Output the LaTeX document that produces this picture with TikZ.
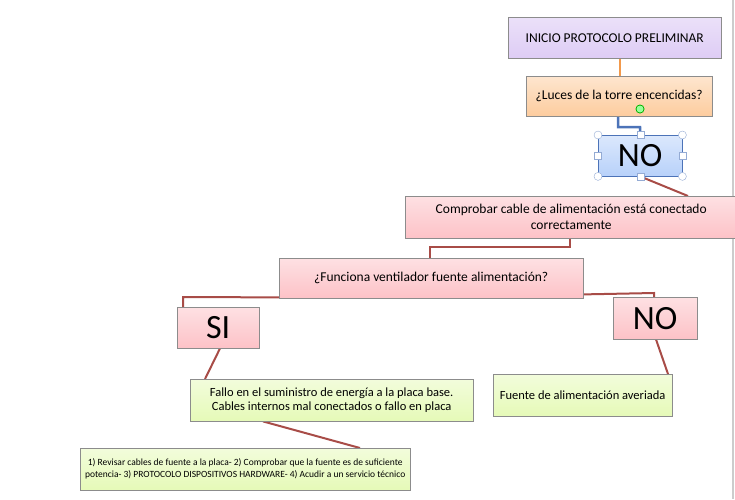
\documentclass[tikz,border=0pt]{standalone}
\usepackage{fontspec}
\setmainfont{Carlito}
\usetikzlibrary{backgrounds}
\definecolor{lila}{rgb}{0.87,0.80,0.96}
\definecolor{naranja}{rgb}{0.99,0.80,0.62}
\definecolor{azul}{rgb}{0.72,0.82,0.98}
\definecolor{rosa}{rgb}{0.99,0.76,0.78}
\definecolor{verde}{rgb}{0.90,0.98,0.72}
\definecolor{borde}{rgb}{0.55,0.55,0.55}
\definecolor{granate}{rgb}{0.66,0.30,0.28}
\definecolor{nar}{rgb}{0.95,0.60,0.30}
\definecolor{azl}{rgb}{0.30,0.45,0.72}
\begin{document}
\begin{tikzpicture}[x=1pt,y=-1pt]
	\tikzstyle{caja}=[draw=borde, anchor=north west, inner sep=2pt, align=center, font=\fontsize{13.5}{16}\selectfont]
	\tikzstyle{link}=[draw=granate, line width=2pt]
	\useasboundingbox (0,0) rectangle (735,499);
	\draw[gray!40, line width=1.5pt] (733,0) -- (733,499);

	% CAJAS
	\node[caja, top color=lila!60, bottom color=lila, minimum width=213pt, minimum height=41pt] (inicio) at (508,17) {INICIO PROTOCOLO PRELIMINAR};
	\node[caja, top color=naranja!50, bottom color=naranja, minimum width=186pt, minimum height=40pt] (luces) at (526,76) {¿Luces de la torre encencidas?};
	\node[caja, draw=azl, top color=azul!50, bottom color=azul, minimum width=84pt, minimum height=41pt, font=\fontsize{34}{36}\selectfont] (no1) at (598,135) {NO};
	\node[caja, top color=rosa!50, bottom color=rosa, minimum width=332pt, minimum height=42pt] (compr) at (405,196) {Comprobar cable de alimentación está conectado\\correctamente};
	\node[caja, top color=rosa!50, bottom color=rosa, minimum width=304pt, minimum height=40pt] (func) at (279,258) {¿Funciona ventilador fuente alimentación?};
	\node[caja, top color=rosa!50, bottom color=rosa, minimum width=82pt, minimum height=41pt, font=\fontsize{34}{36}\selectfont] (si) at (177,307) {SI};
	\node[caja, top color=rosa!50, bottom color=rosa, minimum width=84pt, minimum height=42pt, font=\fontsize{34}{36}\selectfont] (no2) at (613,297) {NO};
	\node[caja, top color=verde!50, bottom color=verde, minimum width=283pt, minimum height=42pt, font=\fontsize{12.5}{14}\selectfont] (fallo) at (190,379) {Fallo en el suministro de energía a la placa base.\\Cables internos mal conectados o fallo en placa};
	\node[caja, top color=verde!50, bottom color=verde, minimum width=179pt, minimum height=42pt, font=\fontsize{12.5}{14}\selectfont] (averia) at (493,374) {Fuente de alimentación averiada};
	\node[caja, top color=verde!50, bottom color=verde, minimum width=330pt, minimum height=42pt, font=\fontsize{9.5}{12}\selectfont] (pasos) at (80,448) {1) Revisar cables de fuente a la placa- 2) Comprobar que la fuente es de suficiente\\potencia- 3) PROTOCOLO DISPOSITIVOS HARDWARE- 4) Acudir a un servicio técnico};

	% CONEXIONES
	\begin{scope}[on background layer]
	\draw[nar, line width=2pt] (inicio.south -| 620,0) -- (luces.north -| 620,0);
	\draw[azl, line width=2.5pt] (luces.south -| 618,0) -- (618,127) -- (640,127) -- (no1.north);
	\draw[link] (no1.south) -- (688,196);
	\draw[link] (compr.south -| 570,0) -- (570,247) -- (430,247) -- (func.north -| 430,0);
	\draw[link] (func.south west) ++(0,-1) -- (183,297) -- (si.north -| 183,0);
	\draw[link] (func.south east) ++(0,-4) -- (654,293) -- (no2.north -| 654,0);
	\draw[link] (no2.south -| 656,0) -- (averia.north -| 668,0);
	\draw[link] (si.south -| 220,0) -- (fallo.north -| 205,0);
	\draw[link] (fallo.south -| 263,0) -- (pasos.north -| 360,0);
	\end{scope}

	% TIRADORES
	\fill[green!70!black] (640,109) circle (4.5pt);
	\fill[green!40] (640,109) circle (3.5pt);
	\foreach \p in {no1.north west, no1.north east, no1.south west, no1.south east}
		\draw[azl!60, fill=white] (\p) circle (4pt);
	\foreach \p in {no1.north, no1.south, no1.west, no1.east}
		\draw[azl!60, fill=white] ([shift={(-3.5,-3.5)}]\p) rectangle ([shift={(3.5,3.5)}]\p);
\end{tikzpicture}
\end{document}
